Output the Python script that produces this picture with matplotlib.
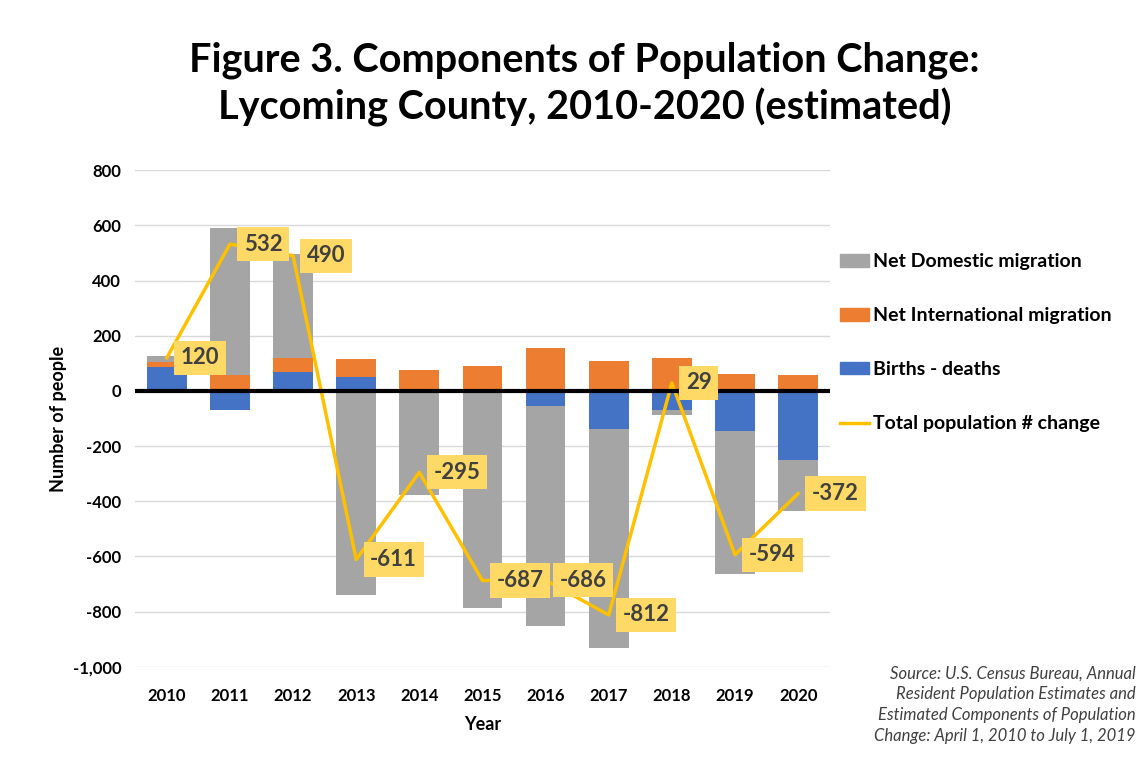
import numpy as np
import matplotlib.pyplot as plt
from matplotlib.patches import Patch
from matplotlib.lines import Line2D

plt.rcParams['font.family'] = ['Lato', 'DejaVu Sans']

# values
years = ['2010', '2011', '2012', '2013', '2014', '2015', '2016', '2017', '2018', '2019', '2020']
births_deaths = [87, -68, 69, 51, 0, 0, -55, -139, -68, -145, -252]
intl_migration = [16, 57, 52, 64, 75, 92, 157, 109, 118, 63, 56]
dom_migration = [24, 533, 376, -739, -376, -785, -796, -792, -18, -517, -182]
total_change = [120, 532, 490, -611, -295, -687, -686, -812, 29, -594, -372]

c_blue = '#4472C4'
c_orange = '#ED7D31'
c_gray = '#A5A5A5'
c_line = '#FFC000'

fig = plt.figure(figsize=(11.46, 7.63), dpi=100)
ax = fig.add_axes([0.118, 0.126, 0.606, 0.651])

x = np.arange(len(years))
w = 0.63
pos = np.zeros(len(years))
neg = np.zeros(len(years))
for vals, col in [(births_deaths, c_blue), (intl_migration, c_orange), (dom_migration, c_gray)]:
    v = np.array(vals, dtype=float)
    bottom = np.where(v >= 0, pos, neg)
    ax.bar(x, v, w, bottom=bottom, color=col, zorder=2)
    pos = pos + np.where(v > 0, v, 0)
    neg = neg + np.where(v < 0, v, 0)

ax.plot(x, total_change, color=c_line, lw=2.5, zorder=3)
for xi, t in zip(x, total_change):
    ax.annotate(str(t), (xi, t), xytext=(14, 0), textcoords='offset pixels',
                ha='left', va='center', fontsize=16, fontweight='bold', color='#404040',
                bbox=dict(boxstyle='square,pad=0.3', fc='#FFD966', ec='none'), zorder=4)

ax.axhline(0, color='black', lw=3, zorder=3)
ax.set_xlim(-0.5, 10.5)
ax.set_ylim(-1000, 800)
ax.set_yticks(np.arange(-1000, 801, 200))
ax.set_yticklabels([f'{v:,}' for v in range(-1000, 801, 200)])
ax.set_xticks(x)
ax.set_xticklabels(years)
ax.grid(axis='y', color='#D9D9D9', lw=1, zorder=0)
ax.set_axisbelow(True)
for s in ax.spines.values():
    s.set_visible(False)
ax.tick_params(axis='y', length=0, labelsize=12, pad=10)
ax.tick_params(axis='x', length=0, labelsize=12, pad=15)
for lab in ax.get_xticklabels() + ax.get_yticklabels():
    lab.set_fontweight('bold')
ax.set_xlabel('Year', fontsize=13, fontweight='bold', labelpad=9)
ax.set_ylabel('Number of people', fontsize=13, fontweight='bold', labelpad=4)

fig.text(0.51, 0.945, 'Figure 3. Components of Population Change:\nLycoming County, 2010-2020 (estimated)',
         ha='center', va='top', fontsize=28.5, fontweight='bold', linespacing=1.25)

handles = [Patch(color=c_gray), Patch(color=c_orange), Patch(color=c_blue),
           Line2D([0], [0], color=c_line, lw=2.5)]
labels = ['Net Domestic migration', 'Net International migration', 'Births - deaths',
          'Total population # change']
fig.legend(handles, labels, loc='upper left', bbox_to_anchor=(0.718, 0.691), frameon=False,
           prop={'size': 14, 'weight': 'bold'}, labelspacing=1.9, handlelength=1.45,
           handleheight=0.6, handletextpad=0.25)

fig.text(0.991, 0.128, 'Source: U.S. Census Bureau, Annual\nResident Population Estimates and\n'
         'Estimated Components of Population\nChange: April 1, 2010 to July 1, 2019',
         ha='right', va='top', fontsize=12, style='italic', color='#404040', linespacing=1.38)

fig.savefig('out.png', dpi=100)
